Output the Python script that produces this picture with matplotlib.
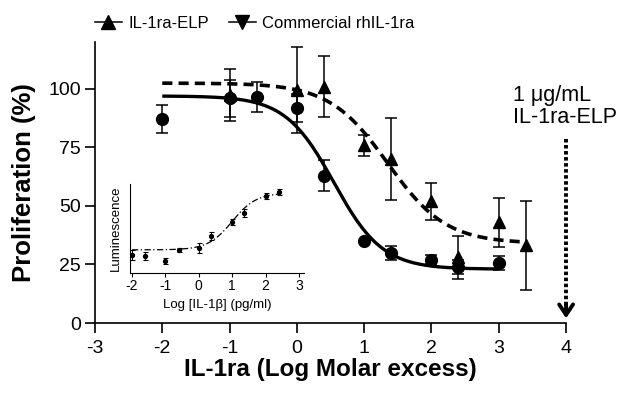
import numpy as np
import matplotlib
matplotlib.use("Agg")
import matplotlib.pyplot as plt
from matplotlib.lines import Line2D

plt.rcParams['font.family'] = ['Liberation Sans', 'DejaVu Sans']

# Main data: commercial rhIL-1ra (circles, solid fit)
circ_x = [-2, -1, -0.6, 0, 0.4, 1.0, 1.4, 2.0, 2.4, 3.0]
circ_y = [87, 96, 96.5, 92, 63, 35, 30, 27, 24, 25.5]
circ_err = [6, 8, 6.5, 6, 6.5, 0, 3, 2, 3, 3]

# IL-1ra-ELP (triangles, dashed fit)
tri_x = [-1, 0, 0.4, 1.0, 1.4, 2.0, 2.4, 3.0, 3.4]
tri_y = [97.5, 99.6, 101, 76, 70, 52, 28, 43, 33.3]
tri_err = [11, 18.4, 13, 4.5, 17.5, 8, 9, 10.5, 19]

# Fit parameters (bottom, top, logEC50, hill)
solid_fit = [23, 97, 0.55, 1.2]
dashed_fit = [34, 102.5, 1.35, 1.0]

# Inset data
ins_x = [-2, -1.6, -1, -0.6, 0, 0.36, 1.0, 1.36, 2.0, 2.4]
ins_y = [20.2, 19, 13.5, 25.8, 28, 41.6, 57.3, 67.4, 86.5, 91]
ins_err = [5.6, 4.5, 3.4, 2.2, 5.6, 4.5, 3.4, 4.5, 3.4, 3.4]
ins_fit = [26, 90, 1.0, 1.2]

main_xticks = [-3, -2, -1, 0, 1, 2, 3, 4]
main_yticks = [0, 25, 50, 75, 100]
ins_xticks = [-2, -1, 0, 1, 2, 3]


def dec(x, b, t, c, h):
    return b + (t - b) / (1 + 10 ** ((x - c) * h))


def inc(x, b, t, c, h):
    return b + (t - b) / (1 + 10 ** ((c - x) * h))


fig = plt.figure(figsize=(6.29, 4.03), dpi=100)
ax = fig.add_axes([0.151, 0.1985, 0.749, 0.697])

xs = np.linspace(-2, 3, 300)
ax.plot(xs, dec(xs, *solid_fit), color='black', lw=2.4, solid_capstyle='butt')
xd = np.linspace(-2, 3.4, 300)
ax.plot(xd, dec(xd, *dashed_fit), color='black', lw=2.6, linestyle=(0, (2.8, 1.7)))

ax.errorbar(circ_x, circ_y, yerr=circ_err, fmt='o', color='black', ms=8.5,
            capsize=4, elinewidth=1.1, capthick=1.1, zorder=3)
ax.errorbar(tri_x, tri_y, yerr=tri_err, fmt='^', color='black', ms=8.5,
            capsize=4, elinewidth=1.1, capthick=1.1, zorder=3)

ax.set_xlim(-3, 4)
ax.set_ylim(0, 120)
ax.set_xticks(main_xticks)
ax.set_xticklabels([str(v) for v in main_xticks])
ax.set_yticks(main_yticks)
for s in ['top', 'right']:
    ax.spines[s].set_visible(False)
for s in ['left', 'bottom']:
    ax.spines[s].set_linewidth(1.2)
ax.tick_params(direction='out', length=7, width=1.2, labelsize=14)
ax.tick_params(axis='x', pad=5)
ax.tick_params(axis='y', pad=3)
ax.set_xlabel('IL-1ra (Log Molar excess)', fontsize=17.5, fontweight='bold', labelpad=1)
ax.set_ylabel('Proliferation (%)', fontsize=18.5, fontweight='bold', labelpad=9)

# Dotted arrow at x=4
ax.plot([4, 4], [78.5, 6], color='black', lw=2.8, linestyle=(0, (0.9, 0.65)),
        clip_on=False, zorder=4)
ax.annotate('', xy=(4, 0.8), xytext=(4, 9),
            arrowprops=dict(arrowstyle='->,head_length=0.75,head_width=0.5',
                            color='black', lw=2.8),
            annotation_clip=False)
ax.text(3.21, 83.5, '1 \u03bcg/mL\nIL-1ra-ELP', ha='left', va='bottom',
        fontsize=15.5, linespacing=1.05)

# Legend
h1 = Line2D([], [], color='black', marker='^', ms=10, lw=1.1)
h2 = Line2D([], [], color='black', marker='v', ms=10, lw=1.1)
fig.legend([h1, h2], ['IL-1ra-ELP', 'Commercial rhIL-1ra'], loc='center',
           bbox_to_anchor=(0.405, 0.942), ncol=2, frameon=False, fontsize=12,
           handlelength=1.6, handletextpad=0.4, columnspacing=1.2)

# Inset
ins = fig.add_axes([0.2067, 0.3226, 0.2766, 0.2208])
xi = np.linspace(-2, 2.4, 200)
ins.plot(xi, inc(xi, *ins_fit), color='black', lw=0.9, linestyle=(0, (5, 2, 1, 2)))
ins.errorbar(ins_x, ins_y, yerr=ins_err, fmt='o', color='black', ms=2.8,
             capsize=1.8, elinewidth=0.8, capthick=0.8)
ins.set_xlim(-2.06, 3.15)
ins.set_ylim(0, 100)
ins.set_xticks(ins_xticks)
ins.set_xticklabels([str(v) for v in ins_xticks])
ins.set_yticks([])
ins.patch.set_alpha(0)
for s in ['top', 'right']:
    ins.spines[s].set_visible(False)
ins.tick_params(direction='out', length=3, width=0.8, labelsize=10, pad=1)
ins.set_xlabel('Log [IL-1\u03b2] (pg/ml)', fontsize=9.5, labelpad=5)
ins.set_ylabel('Luminescence', fontsize=9.5, labelpad=6)

fig.savefig('out.png', dpi=100)
